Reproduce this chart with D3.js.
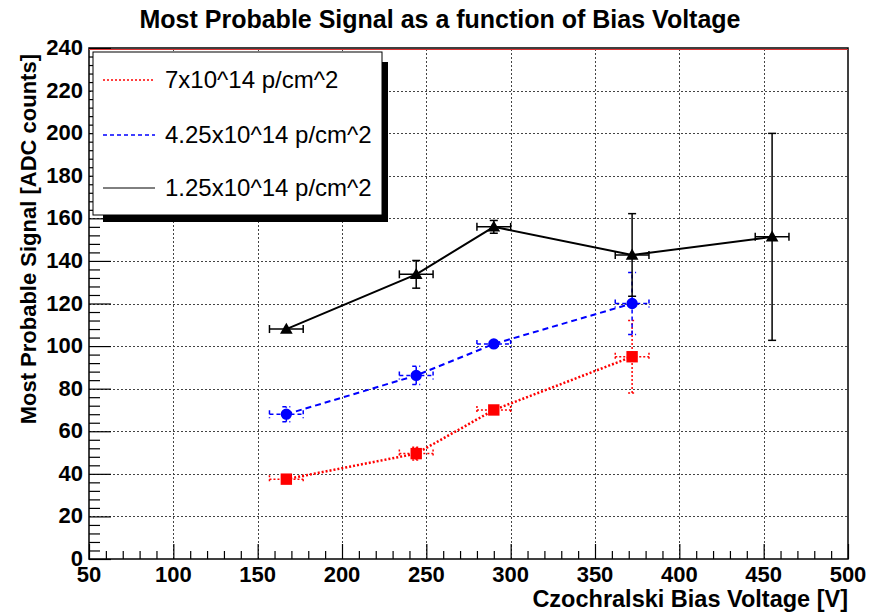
<!DOCTYPE html>
<html lang="en">
<head>
  <meta charset="UTF-8">
  <script src="https://d3js.org/d3.v7.min.js"></script>
  <style>
    body { margin: 0; background: #fff; font-family: "Liberation Sans", Arial, sans-serif; }
    svg { display: block; }
  </style>
</head>
<body>
<div id="chart"></div>
<script>
// values
const xTicks = [50, 100, 150, 200, 250, 300, 350, 400, 450, 500];
const yTicks = [0, 20, 40, 60, 80, 100, 120, 140, 160, 180, 200, 220, 240];

const redLabel = '7x10^14 p/cm^2';
const redX = [167, 244, 290, 372];
const redY = [37.5, 49.5, 70, 95];
const redYErr = [2, 3, 2, 17];

const blueLabel = '4.25x10^14 p/cm^2';
const blueX = [167, 244, 290, 372];
const blueY = [68, 86.2, 101, 120];
const blueYErr = [3.5, 4.3, 2, 14.6];

const blackLabel = '1.25x10^14 p/cm^2';
const blackX = [167, 244, 290, 372, 455];
const blackY = [108, 133.7, 156, 142.8, 151.3];
const blackYErr = [1.5, 6.5, 3, 19.4, 48.6];

const xErr = 10;

const W = 870, H = 614;
const pLeft = 89, pRight = 848, pTop = 48, pBottom = 559;

const svg = d3.select('#chart').append('svg')
  .attr('width', W)
  .attr('height', H);

const x = d3.scaleLinear().domain([50, 500]).range([pLeft, pRight]);
const y = d3.scaleLinear().domain([0, 240]).range([pBottom, pTop]);

// grid
const grid = svg.append('g').attr('stroke', '#444').attr('stroke-width', 1)
  .attr('stroke-dasharray', '2,2');
grid.selectAll('.gx').data(xTicks.slice(1, -1)).enter().append('line')
  .attr('x1', d => Math.round(x(d)) + 0.5).attr('x2', d => Math.round(x(d)) + 0.5)
  .attr('y1', pBottom).attr('y2', pTop);
grid.selectAll('.gy').data(yTicks.slice(1, -1)).enter().append('line')
  .attr('y1', d => Math.round(y(d)) + 0.5).attr('y2', d => Math.round(y(d)) + 0.5)
  .attr('x1', pLeft).attr('x2', pRight);

// axes
const xAxis = d3.axisBottom(x).tickValues(d3.range(50, 501, 10))
  .tickSize(0).tickFormat('');
const gx = svg.append('g').attr('transform', `translate(0,${pBottom})`).call(xAxis);
gx.select('.domain').remove();
gx.selectAll('.tick line')
  .attr('y2', d => d % 50 === 0 ? -15 : -8)
  .attr('stroke', '#000').attr('stroke-width', 1.2);
gx.selectAll('.lab').data(xTicks).enter().append('text')
  .attr('x', d => x(d)).attr('y', 23)
  .attr('text-anchor', 'middle')
  .attr('font-size', 22).attr('font-weight', 'bold').attr('fill', '#000')
  .text(d => d);

const yAxis = d3.axisLeft(y).tickValues(d3.range(0, 241, 4))
  .tickSize(0).tickFormat('');
const gy = svg.append('g').attr('transform', `translate(${pLeft},0)`).call(yAxis);
gy.select('.domain').remove();
gy.selectAll('.tick line')
  .attr('x2', d => d % 20 === 0 ? 22 : 11)
  .attr('stroke', '#000').attr('stroke-width', 1.2);
gy.selectAll('.lab').data(yTicks).enter().append('text')
  .attr('x', -6).attr('y', d => y(d) + 7)
  .attr('text-anchor', 'end')
  .attr('font-size', 22).attr('font-weight', 'bold').attr('fill', '#000')
  .text(d => d);

// frame
svg.append('rect')
  .attr('x', pLeft).attr('y', pTop)
  .attr('width', pRight - pLeft).attr('height', pBottom - pTop)
  .attr('fill', 'none').attr('stroke', '#000').attr('stroke-width', 1.5);
svg.append('line')
  .attr('x1', pLeft).attr('x2', pRight).attr('y1', pTop + 1.5).attr('y2', pTop + 1.5)
  .attr('stroke', '#d33').attr('stroke-width', 1);

// titles
svg.append('text')
  .attr('x', 440).attr('y', 28)
  .attr('text-anchor', 'middle')
  .attr('font-size', 25).attr('font-weight', 'bold')
  .text('Most Probable Signal as a function of Bias Voltage');
svg.append('text')
  .attr('x', pRight).attr('y', 607)
  .attr('text-anchor', 'end')
  .attr('font-size', 23.5).attr('font-weight', 'bold')
  .text('Czochralski Bias Voltage [V]');
svg.append('text')
  .attr('transform', `translate(36,${pTop + 6}) rotate(-90)`)
  .attr('text-anchor', 'end')
  .attr('font-size', 22).attr('font-weight', 'bold')
  .text('Most Probable Signal [ADC counts]');

// series
const series = [
  { xs: redX, ys: redY, es: redYErr, color: '#f00', dash: '2,2', width: 2.5, shape: 'square' },
  { xs: blueX, ys: blueY, es: blueYErr, color: '#00f', dash: '6,4', width: 2, shape: 'circle' },
  { xs: blackX, ys: blackY, es: blackYErr, color: '#000', dash: null, width: 2, shape: 'triangle' }
];

const cap = 4;
series.forEach(s => {
  const pts = s.xs.map((v, i) => ({ x: v, y: s.ys[i], e: s.es[i] }));
  const g = svg.append('g');
  const eb = g.append('g').attr('stroke', s.color).attr('stroke-width', 1.5)
    .attr('stroke-dasharray', s.dash ? (s.shape === 'circle' ? '4,3' : '2,2') : null);
  pts.forEach(p => {
    const cx = x(p.x), cy = y(p.y);
    const x0 = x(p.x - xErr), x1 = x(p.x + xErr);
    const y0 = y(p.y - p.e), y1 = y(p.y + p.e);
    eb.append('line').attr('x1', x0).attr('x2', x1).attr('y1', cy).attr('y2', cy);
    eb.append('line').attr('x1', x0).attr('x2', x0).attr('y1', cy - cap).attr('y2', cy + cap);
    eb.append('line').attr('x1', x1).attr('x2', x1).attr('y1', cy - cap).attr('y2', cy + cap);
    if (y0 - y1 > 12) {
      eb.append('line').attr('x1', cx).attr('x2', cx).attr('y1', y0).attr('y2', y1);
      eb.append('line').attr('x1', cx - cap).attr('x2', cx + cap).attr('y1', y0).attr('y2', y0);
      eb.append('line').attr('x1', cx - cap).attr('x2', cx + cap).attr('y1', y1).attr('y2', y1);
    }
  });
  g.append('path')
    .datum(pts)
    .attr('d', d3.line().x(d => x(d.x)).y(d => y(d.y)))
    .attr('fill', 'none')
    .attr('stroke', s.color)
    .attr('stroke-width', s.width)
    .attr('stroke-dasharray', s.dash);
  const symType = s.shape === 'square' ? d3.symbolSquare
    : s.shape === 'circle' ? d3.symbolCircle : d3.symbolTriangle;
  const symSize = s.shape === 'square' ? 130 : s.shape === 'circle' ? 100 : 70;
  g.selectAll('.m').data(pts).enter().append('path')
    .attr('transform', d => `translate(${x(d.x)},${y(d.y) + (s.shape === 'triangle' ? 1 : 0)})`)
    .attr('d', d3.symbol().type(symType).size(symSize))
    .attr('fill', s.color);
});

// legend
const bx = 93, by = 52, bw = 289, bh = 163;
svg.append('rect').attr('x', bx + 10).attr('y', by + 10)
  .attr('width', bw - 4).attr('height', bh - 3).attr('fill', '#000');
svg.append('rect').attr('x', bx).attr('y', by).attr('width', bw).attr('height', bh)
  .attr('fill', '#fff').attr('stroke', '#000').attr('stroke-width', 1);
const legendItems = [
  { label: redLabel, s: series[0], ly: 80 },
  { label: blueLabel, s: series[1], ly: 135 },
  { label: blackLabel, s: series[2], ly: 188 }
];
legendItems.forEach(it => {
  svg.append('line')
    .attr('x1', 103).attr('x2', 155).attr('y1', it.ly).attr('y2', it.ly)
    .attr('stroke', it.s.color).attr('stroke-width', it.s.shape === 'triangle' ? 1 : 1.5)
    .attr('stroke-dasharray', it.s.dash ? (it.s.shape === 'circle' ? '4,3' : '2,2') : null);
  svg.append('text')
    .attr('x', 165).attr('y', it.ly + 8)
    .attr('font-size', 24)
    .text(it.label);
});
</script>
</body>
</html>
